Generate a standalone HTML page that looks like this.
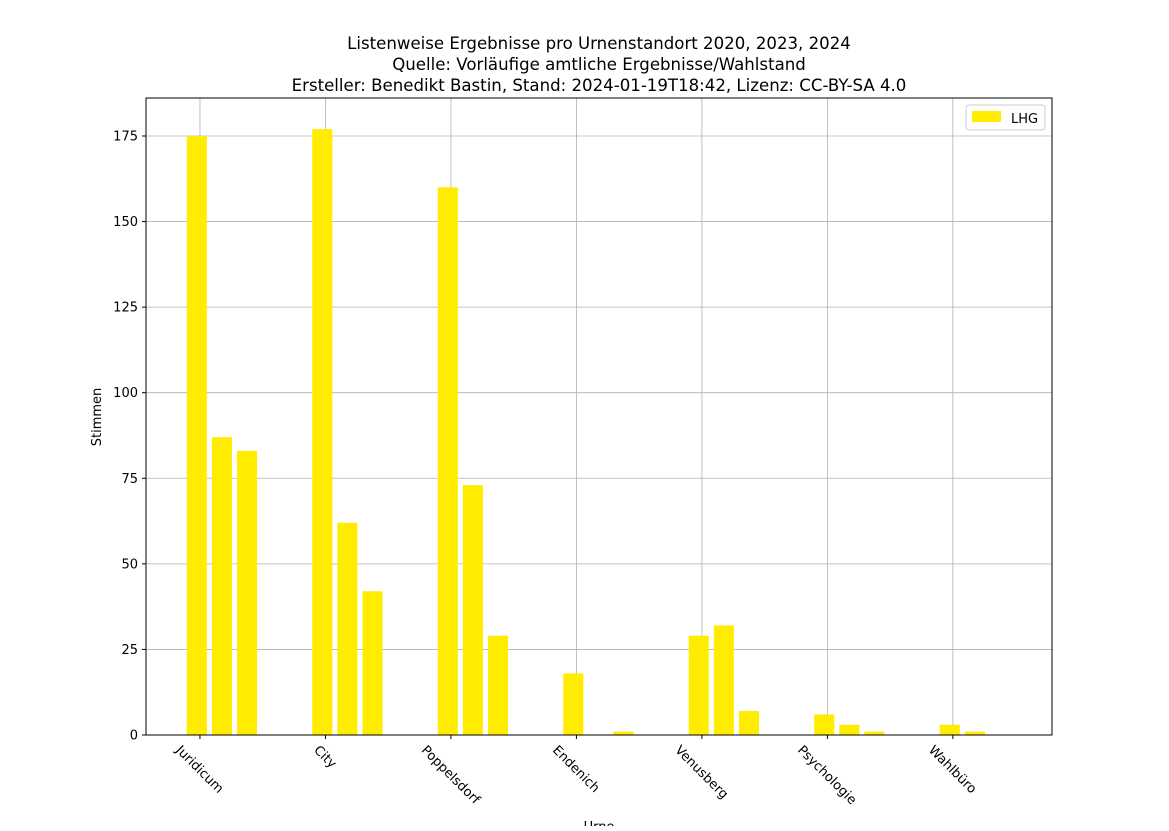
<!DOCTYPE html>
<html><head><meta charset="utf-8">
<style>
body{margin:0;background:#fff;}
svg text{font-family:"DejaVu Sans","Liberation Sans",sans-serif;fill:#000;}
</style></head>
<body>
<svg id="chart" width="1169" height="826" xmlns="http://www.w3.org/2000/svg">
<rect width="1169" height="826" fill="#fff"/>
<text x="599" y="49" font-size="16.6" text-anchor="middle">Listenweise Ergebnisse pro Urnenstandort 2020, 2023, 2024</text>
<text x="599" y="70" font-size="16.6" text-anchor="middle">Quelle: Vorläufige amtliche Ergebnisse/Wahlstand</text>
<text x="599" y="91" font-size="16.6" text-anchor="middle">Ersteller: Benedikt Bastin, Stand: 2024-01-19T18:42, Lizenz: CC-BY-SA 4.0</text>
<g id="grid"></g>
<g id="bars"></g>
<g id="axes"></g>
<rect x="146" y="98" width="906" height="637" fill="none" stroke="#000" stroke-width="1"/>
<text x="0" y="0" font-size="13" text-anchor="middle" transform="translate(101,417) rotate(-90)">Stimmen</text>
<text x="599" y="831" font-size="13" text-anchor="middle">Urne</text>
<g>
<rect x="966" y="105" width="79" height="25" rx="3" fill="#fff" stroke="#ccc"/>
<rect x="972" y="111" width="29" height="11" fill="#ffec00"/>
<text x="1011" y="123" font-size="13">LHG</text>
</g>
</svg>
<script>
const categories = ["Juridicum","City","Poppelsdorf","Endenich","Venusberg","Psychologie","Wahlbüro"];
const values2020 = [175,177,160,18,29,6,3];
const values2023 = [87,62,73,0,32,3,1];
const values2024 = [83,42,29,1,7,1,0];
const yTicks = [0,25,50,75,100,125,150,175];

const NS="http://www.w3.org/2000/svg";
const X0=146,X1=1052,Y0=735,Y1=98;
const xmin=-0.43,xmax=6.79,ymax=186.1;
const xs=v=>X0+(v-xmin)/(xmax-xmin)*(X1-X0);
const ys=v=>Y0-v/ymax*(Y0-Y1);
function mk(tag,attrs,parent){const e=document.createElementNS(NS,tag);for(const k in attrs)e.setAttribute(k,attrs[k]);parent.appendChild(e);return e;}
const grid=document.getElementById('grid'),bars=document.getElementById('bars'),axes=document.getElementById('axes');
yTicks.forEach(t=>{
  const y=ys(t);
  const g=mk('line',{x1:X0,x2:X1,y1:y,y2:y,stroke:'#b0b0b0','stroke-width':0.8},grid);
  
  
  mk('line',{x1:X0-4,x2:X0,y1:y,y2:y,stroke:'#000'},axes);
  const tx=mk('text',{x:X0-8,y:y+4.5,'font-size':13,'text-anchor':'end'},axes);
  tx.textContent=t;
  
  
});
const series=[values2020,values2023,values2024];
const offs=[-0.025,0.175,0.375],bw=0.16;
categories.forEach((c,i)=>{
  const x=xs(i);
  const g=mk('line',{x1:x,x2:x,y1:Y1,y2:Y0,stroke:'#b0b0b0','stroke-width':0.8},grid);
  
  
  mk('line',{x1:x,x2:x,y1:Y0,y2:Y0+4,stroke:'#000'},axes);
  const tx=mk('text',{x:0,y:4.5,'font-size':13,'text-anchor':'middle'},axes);
  tx.textContent=c;
  
  
  const w=tx.getComputedTextLength();
  const h=(w+13)*Math.SQRT1_2;
  tx.setAttribute('transform',`translate(${x},${Y0+8+h/2}) rotate(45)`);
  series.forEach((s,j)=>{
    if(!s[i])return;
    const l=xs(i+offs[j]-bw/2),r=xs(i+offs[j]+bw/2);
    const b=mk('rect',{x:l,y:ys(s[i]),width:r-l,height:Y0-ys(s[i]),fill:'#ffec00'},bars);
    
    
  });
});
</script>
</body></html>
